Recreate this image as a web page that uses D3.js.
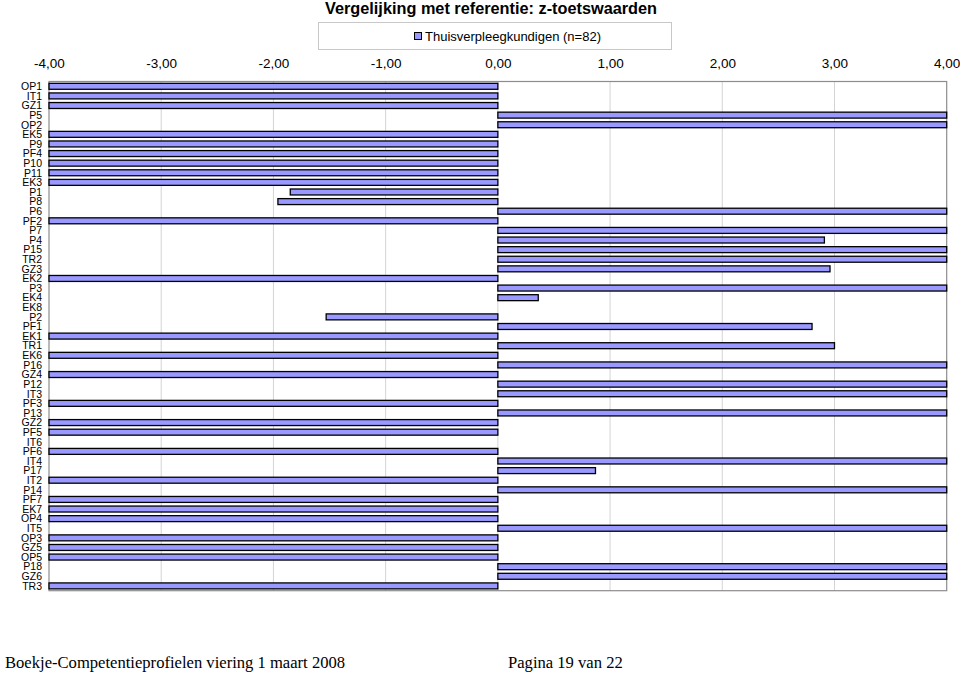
<!DOCTYPE html>
<html><head><meta charset="utf-8">
<script src="https://cdn.jsdelivr.net/npm/d3@7"></script>
<style>body{margin:0;background:#fff}svg{display:block}</style>
</head><body>
<svg id="c" width="960" height="673"></svg>
<script>
const categories = ["OP1","IT1","GZ1","P5","OP2","EK5","P9","PF4","P10","P11","EK3","P1","P8","P6","PF2","P7","P4","P15","TR2","GZ3","EK2","P3","EK4","EK8","P2","PF1","EK1","TR1","EK6","P16","GZ4","P12","IT3","PF3","P13","GZ2","PF5","IT6","PF6","IT4","P17","IT2","P14","PF7","EK7","OP4","IT5","OP3","GZ5","OP5","P18","GZ6","TR3"];
const values = [-4,-4,-4,4,4,-4,-4,-4,-4,-4,-4,-1.85,-1.96,4,-4,4,2.91,4,4,2.96,-4,4,0.36,0,-1.53,2.80,-4,3.00,-4,4,-4,4,4,-4,4,-4,-4,0,-4,4,0.87,-4,4,-4,-4,-4,4,-4,-4,-4,4,4,-4];
const xTicks = [-4,-3,-2,-1,0,1,2,3,4];
const seriesName = "Thuisverpleegkundigen (n=82)";
const title = "Vergelijking met referentie: z-toetswaarden";
const footerLeft = "Boekje-Competentieprofielen viering 1 maart 2008";
const footerRight = "Pagina 19 van 22";

const svg = d3.select("#c");
const L = 49, R = 946.7, T = 81.5, B = 590.7;
const x = d3.scaleLinear().domain([-4,4]).range([L,R]);
const y = d3.scaleBand().domain(categories).range([T,B]).paddingInner(0.38).paddingOuter(0.19);
const sans = "Liberation Sans, Arial, sans-serif";

svg.append("text").attr("x",491).attr("y",14).attr("text-anchor","middle")
  .attr("font-family",sans).attr("font-weight","bold").attr("font-size",16.3).attr("fill","#000").text(title);

// legend
const lg = svg.append("g");
lg.append("rect").attr("x",318.5).attr("y",22.5).attr("width",353).attr("height",27).attr("fill","#fff").attr("stroke","#c8c8c8");
lg.append("rect").attr("x",414.5).attr("y",32.5).attr("width",7).attr("height",7).attr("fill","#9999FF").attr("stroke","#000");
lg.append("text").attr("x",425).attr("y",41).attr("font-family",sans).attr("font-size",13).attr("fill","#000").text(seriesName);

// gridlines
svg.append("g").selectAll("line").data(xTicks.slice(1,-1)).join("line")
  .attr("x1",d=>x(d)).attr("x2",d=>x(d)).attr("y1",T).attr("y2",B)
  .attr("stroke","#d4d4d4").attr("stroke-width",1);

// axis labels (top)
const ax = svg.append("g").attr("transform",`translate(0,${T})`)
  .call(d3.axisTop(x).tickValues(xTicks).tickSize(0).tickPadding(14).tickFormat(d=>d3.format(".2f")(d).replace(".",",").replace("−","-")));
ax.select(".domain").remove();
ax.selectAll("text").attr("font-family",sans).attr("font-size",13.5).attr("fill","#000");

// plot border
svg.append("rect").attr("x",L).attr("y",T).attr("width",R-L).attr("height",B-T).attr("fill","none").attr("stroke","#8c8c8c").attr("stroke-width",1.2);

// bars
svg.append("g").selectAll("rect").data(categories.map((c,i)=>({c,v:values[i]})).filter(d=>d.v!==0)).join("rect")
  .attr("x",d=>x(Math.min(0,d.v))).attr("width",d=>Math.abs(x(d.v)-x(0)))
  .attr("y",d=>y(d.c)).attr("height",y.bandwidth())
  .attr("fill","#9999FF").attr("stroke","#000").attr("stroke-width",1.3);

// category labels
svg.append("g").selectAll("text").data(categories).join("text")
  .attr("x",42).attr("y",d=>y(d)+y.bandwidth()/2).attr("dy","0.36em").attr("text-anchor","end")
  .attr("font-family",sans).attr("font-size",10.5).attr("fill","#000").text(d=>d);

// footer
const serif = "Liberation Serif, Times New Roman, serif";
svg.append("text").attr("x",5).attr("y",668).attr("font-family",serif).attr("font-size",16.6).attr("fill","#000").text(footerLeft);
svg.append("text").attr("x",508).attr("y",668).attr("font-family",serif).attr("font-size",16.6).attr("fill","#000").text(footerRight);
</script>
</body></html>
